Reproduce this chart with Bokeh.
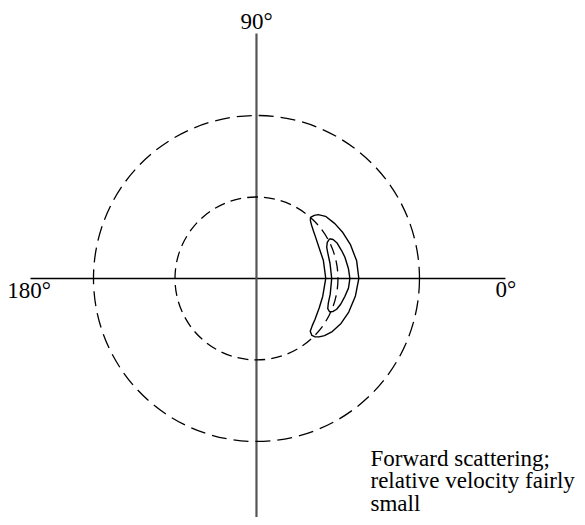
import numpy as np
from bokeh.plotting import figure
from bokeh.models import ColumnDataSource
from bokeh.core.properties import value
from bokeh.embed import file_html
from bokeh.resources import INLINE

# ---------------- data ----------------
ring_radii = [1.0, 2.0]          # inner and outer dashed reference circles
angle_labels = ["0°", "90°", "180°"]
note_lines = ["Forward scattering;", "relative velocity fairly", "small"]

# outer solid contour (polar: angle in degrees, radius in units of inner circle)
outer_theta = [48.5, 47.5, 46, 42, 35, 28, 20, 10, 0, -10, -20, -28, -35, -40,
               -43, -45, -45.8, -44.5, -40, -35, -25, -15, 0, 15, 24, 35, 40,
               44, 47, 48.5]
outer_r = [1.00, 1.05, 1.09, 1.14, 1.174, 1.20, 1.225, 1.248, 1.256, 1.233,
           1.205, 1.175, 1.135, 1.09, 1.05, 1.01, 0.975, 0.925, 0.895, 0.876,
           0.85, 0.842, 0.85, 0.85, 0.852, 0.885, 0.911, 0.94, 0.97, 1.00]

# inner solid contour
inner_theta = [28.5, 27, 24, 18, 13.5, 6, 0, -6, -11.4, -17, -21, -23.5, -24.5,
               -23, -19, -12, 0, 11.5, 20, 24, 27, 28.5]
inner_r = [1.02, 1.055, 1.079, 1.10, 1.116, 1.135, 1.146, 1.135, 1.107, 1.08,
           1.054, 1.02, 0.985, 0.95, 0.932, 0.925, 0.923, 0.921, 0.93, 0.943,
           0.975, 1.02]

# ---------------- figure ----------------
W, H = 577, 517
p = figure(width=W, height=H, x_range=(-3.141, 3.939), y_range=(-2.933, 3.411),
           output_backend="svg", toolbar_location=None, min_border=0)
p.axis.visible = False
p.grid.visible = False
p.outline_line_color = None
p.background_fill_color = "white"
p.border_fill_color = "white"

# polar axes lines
p.segment(x0=[-2.773], y0=[0], x1=[3.055], y1=[0], line_color="black", line_width=1.6)
p.segment(x0=[0], y0=[-2.95], x1=[0], y1=[3.006], line_color="#555555", line_width=2.2)

# dashed reference circles
p.circle(x=[0], y=[0], radius=[ring_radii[0]], fill_color=None,
         line_color="black", line_width=1.3, line_dash="11 6")
p.circle(x=[0], y=[0], radius=[ring_radii[1]], fill_color=None,
         line_color="black", line_width=1.3, line_dash="15 7")

def polar_xy(theta_deg, r):
    t = np.radians(np.asarray(theta_deg, dtype=float))
    r = np.asarray(r, dtype=float)
    return r * np.cos(t), r * np.sin(t)

ox, oy = polar_xy(outer_theta, outer_r)
ix, iy = polar_xy(inner_theta, inner_r)
p.line(ox, oy, line_color="black", line_width=1.4, line_join="round")
p.line(ix, iy, line_color="black", line_width=1.4, line_join="round")

font = value("Liberation Serif")
fs = value("23px")

# angle labels
lab_src = ColumnDataSource(dict(x=[3.06, 0.0, -2.79], y=[-0.135, 3.153, -0.147],
                                t=angle_labels))
p.text(x="x", y="y", text="t", source=lab_src, text_font=font, text_font_size=fs,
       text_align="center", text_baseline="alphabetic", text_color="black")

# annotation
ys = [-2.209 - i * 0.276 for i in range(len(note_lines))]
note_src = ColumnDataSource(dict(x=[1.399] * len(note_lines), y=ys, t=note_lines))
p.text(x="x", y="y", text="t", source=note_src, text_font=font, text_font_size=fs,
       text_align="left", text_baseline="alphabetic", text_color="black")

open("out.html", "w").write(file_html(p, INLINE))
